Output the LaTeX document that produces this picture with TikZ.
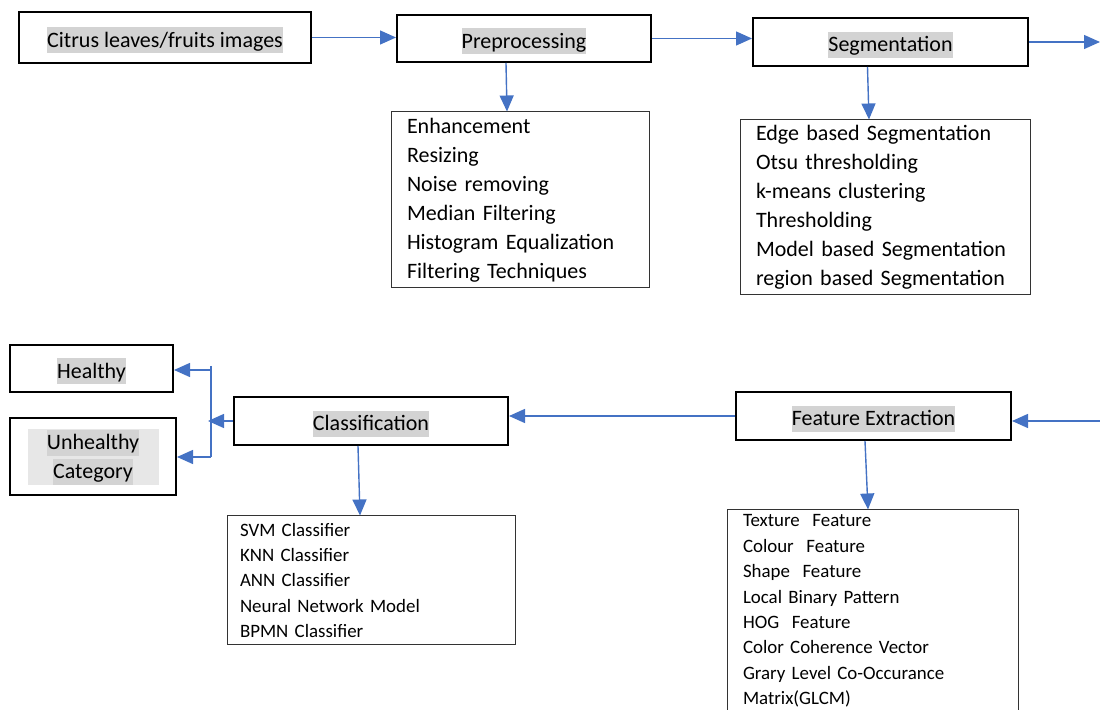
\documentclass[tikz,border=0pt]{standalone}
\usepackage{fontspec}
\setmainfont{Carlito}
\usetikzlibrary{arrows.meta}
\definecolor{flowblue}{HTML}{4472C4}
\definecolor{hlgray}{HTML}{D3D3D3}
\definecolor{hlpale}{HTML}{E7E7E7}
\newcommand{\hl}[1]{{\setlength{\fboxsep}{0pt}\colorbox{hlgray}{\rule[-3.2pt]{0pt}{13pt}#1}}}

\begin{document}
\begin{tikzpicture}[x=0.5pt, y=-0.5pt,
  stage/.style={draw, line width=1pt, inner sep=0pt, text height=12.8pt, text depth=3.2pt, font=\fontsize{11}{14.5}\selectfont},
  itemlist/.style={draw=black!80, line width=0.5pt, align=left, inner ysep=0pt, font=\fontsize{11}{14.5}\selectfont},
  smalllist/.style={itemlist, font=\fontsize{9.45}{12.7}\selectfont},
  arrow/.style={-{Triangle[length=8pt,width=7pt]}, flowblue, line width=0.7pt},
  branch/.style={flowblue, line width=0.7pt}
]
  \useasboundingbox (0,0) rectangle (1100,710);

  % Stages
  \node[stage, minimum width=146pt, minimum height=25.5pt] (citrus) at (165,37.5) {\hl{Citrus leaves/fruits images}};
  \node[stage, minimum width=127pt, minimum height=23.5pt] (prep) at (524,38.5) {\hl{Preprocessing}};
  \node[stage, minimum width=137.5pt, minimum height=24pt] (seg) at (890.5,42) {\hl{Segmentation}};
  \node[stage, minimum width=137.5pt, minimum height=24pt] (feat) at (873.5,416) {\hl{Feature Extraction}};
  \node[stage, minimum width=137pt, minimum height=24pt] (cls) at (371,421) {\hl{Classification}};
  \node[stage, minimum width=81.5pt, minimum height=23.5pt] (healthy) at (91.5,368.5) {\hl{Healthy}};
  \node[stage, minimum width=83pt, minimum height=38.5pt] (unhealthy) at (93,456.5) {};
  \node[fill=hlpale, inner sep=0pt, minimum width=65.5pt, minimum height=28pt, align=center,
    font=\fontsize{11}{14.5}\selectfont] (unhealthytxt) at (93,457.5) {\hl{Unhealthy}\\\hl{Category}};

  % Item lists
  \node[itemlist, inner xsep=8pt, text width=113pt, minimum height=88pt] (prepitems) at (520,200)
    {Enhancement\\Resizing\\Noise removing\\Median Filtering\\Histogram Equalization\\Filtering Techniques};
  \node[itemlist, inner xsep=8pt, text width=129pt, minimum height=87.5pt] (segitems) at (885,207.5)
    {Edge based Segmentation\\Otsu thresholding\\k-means clustering\\Thresholding\\Model based Segmentation\\region based Segmentation};
  \node[smalllist, inner xsep=6.5pt, text width=131pt, minimum height=64.5pt] (clsitems) at (371,580.5)
    {SVM Classifier\\KNN Classifier\\ANN Classifier\\Neural Network Model\\BPMN Classifier};
  \node[smalllist, inner xsep=8pt, text width=129.5pt, minimum height=101pt] (featitems) at (872.5,611)
    {Texture\ \ Feature\\Colour\ \ Feature\\Shape\ \ Feature\\Local Binary Pattern\\HOG\ \ Feature\\Color Coherence Vector\\Grary Level Co-Occurance\\Matrix(GLCM)};

  % Free ends and branch points
  \coordinate (eastout) at (1100,42);
  \coordinate (eastin) at (1100,421);
  \coordinate (splitin) at (208,421);
  \coordinate (splittop) at (211,366);
  \coordinate (splithi) at (211,370);
  \coordinate (splitlo) at (211,457);

  % Main flow
  \draw[arrow] (citrus.east) -- (citrus.east -| prep.west);
  \draw[arrow] (prep.east) -- (prep.east -| seg.west);
  \draw[arrow] (seg.east) -- (eastout);
  \draw[arrow] (eastin) -- (eastin -| feat.east);
  \draw[arrow] (feat.west) -- (feat.west -| cls.east);
  \draw[arrow] (cls.west) -- (splitin);

  % Down to item lists
  \draw[arrow] ([xshift=-9pt]prep.south) -- ([xshift=-6.5pt]prepitems.north);
  \draw[arrow] ([xshift=-11.5pt]seg.south) -- ([xshift=-8pt]segitems.north);
  \draw[arrow] ([xshift=-6.5pt]cls.south) -- ([xshift=-5.5pt]clsitems.north);
  \draw[arrow] ([xshift=-4.25pt]feat.south) -- ([xshift=-2.25pt]featitems.north);

  % Healthy / unhealthy branch
  \draw[branch] (splittop) -- (splitlo);
  \draw[arrow] (splithi) -- (splithi -| healthy.east);
  \draw[arrow] (splitlo) -- (splitlo -| unhealthy.east);
\end{tikzpicture}
\end{document}
